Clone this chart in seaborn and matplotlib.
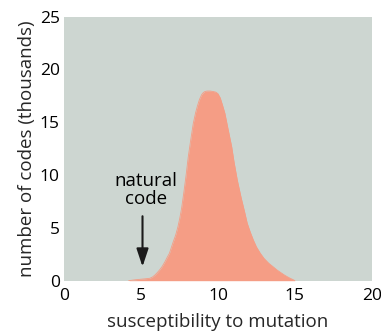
import matplotlib
matplotlib.use("Agg")
import matplotlib.pyplot as plt
import seaborn as sns
import pandas as pd

# Distribution of alternative genetic codes by susceptibility to mutation
susceptibility = [4.2, 4.6, 5.0, 5.3, 5.58, 5.75, 5.91, 6.05, 6.2, 6.38, 6.56, 6.7,
                  6.85, 7.10, 7.25, 7.4, 7.52, 7.64, 7.78, 7.92, 8.07, 8.23, 8.40,
                  8.55, 8.66, 8.80, 8.94, 9.05, 9.15, 9.3, 9.5, 9.7, 9.85, 10.0,
                  10.15, 10.3, 10.45, 10.65, 10.89, 11.05, 11.26, 11.5, 11.75, 11.9,
                  12.1, 12.3, 12.5, 12.75, 13.0, 13.3, 13.6, 13.85, 14.1, 14.3, 14.5,
                  14.7, 14.85, 15.0]
codes_thousands = [0.0, 0.08, 0.14, 0.18, 0.23, 0.35, 0.54, 0.75, 1.0, 1.35, 1.8,
                   2.2, 2.6, 3.7, 4.3, 5.1, 5.9, 6.86, 8.3, 9.85, 11.7, 13.3, 14.9,
                   15.9, 16.5, 17.15, 17.6, 17.8, 17.9, 17.95, 17.95, 17.9, 17.85,
                   17.7, 17.3, 16.6, 15.85, 14.4, 12.7, 11.2, 9.5, 7.9, 6.4, 5.45,
                   4.6, 3.85, 3.2, 2.6, 2.1, 1.65, 1.3, 1.0, 0.75, 0.55, 0.38, 0.22,
                   0.12, 0.0]

x_ticks = [0, 5, 10, 15, 20]
y_ticks = [0, 5, 10, 15, 20, 25]
natural_code = 5.1

BG = "#cdd6d1"
FILL = "#f59d85"

sns.set_theme(style="white")
plt.rcParams["font.family"] = ["Open Sans", "DejaVu Sans"]

df = pd.DataFrame({"s": susceptibility, "n": codes_thousands})

fig = plt.figure(figsize=(3.81, 3.31), dpi=100)
ax = fig.add_axes([0.168, 0.152, 0.808, 0.798])
ax.set_facecolor(BG)

sns.lineplot(data=df, x="s", y="n", ax=ax, color=FILL, linewidth=0.6)
ax.fill_between(df["s"], df["n"], color=FILL, linewidth=0)

ax.set_xlim(0, 20)
ax.set_ylim(0, 25)
ax.set_xticks(x_ticks)
ax.set_yticks(y_ticks)
for s in ax.spines.values():
    s.set_visible(False)
ax.tick_params(axis="both", direction="in", colors="white", width=1.3,
               labelcolor="black", labelsize=12.5)
ax.tick_params(axis="y", length=8, pad=3)
ax.tick_params(axis="x", length=6.5, pad=5)

ax.set_xlabel("susceptibility to mutation", fontsize=13.5, labelpad=7)
ax.set_ylabel("number of codes (thousands)", fontsize=13.5, labelpad=3)

ax.annotate("", xy=(natural_code, 1.33), xytext=(natural_code, 6.1),
            arrowprops=dict(arrowstyle="-|>,head_length=0.9,head_width=0.3",
                            color="#1a1a1a", lw=1.5, shrinkA=0, shrinkB=0))
ax.text(5.3, 6.9, "natural\ncode", ha="center", va="bottom", fontsize=13.5,
        linespacing=0.95, color="black")

fig.savefig("out.png", dpi=100)
